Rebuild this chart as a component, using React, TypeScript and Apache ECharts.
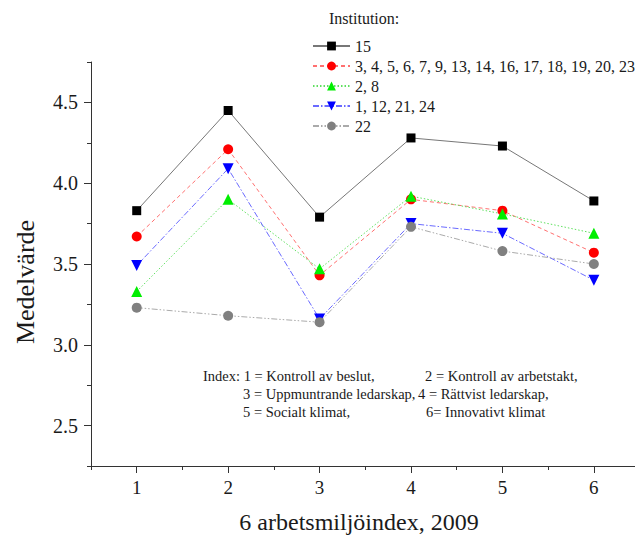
import React, { useEffect, useRef } from "react";
import * as echarts from "echarts";

const categories = [1, 2, 3, 4, 5, 6];
const seriesNames = ["15", "3, 4, 5, 6, 7, 9, 13, 14, 16, 17, 18, 19, 20, 23", "2, 8", "1, 12, 21, 24", "22"];
const inst15 = [3.83, 4.45, 3.79, 4.28, 4.23, 3.89];
const instRed = [3.67, 4.21, 3.43, 3.90, 3.83, 3.57];
const instGreen = [3.33, 3.90, 3.47, 3.92, 3.81, 3.69];
const instBlue = [3.49, 4.09, 3.16, 3.75, 3.69, 3.40];
const inst22 = [3.23, 3.18, 3.14, 3.73, 3.58, 3.50];
const yMajorTicks = [2.5, 3.0, 3.5, 4.0, 4.5];
const yMinorTicks = [2.25, 2.75, 3.25, 3.75, 4.25, 4.75];
const xMinorTicks = [0.5, 1.5, 2.5, 3.5, 4.5, 5.5];
const indexLines = [
  ["Index: 1 = Kontroll av beslut,", "2 = Kontroll av arbetstakt,"],
  ["3 = Uppmuntrande ledarskap,", "4 = Rättvist ledarskap,"],
  ["5 = Socialt klimat,", "6= Innovativt klimat"],
];

const FONT = "Liberation Serif";
const AX = "#333";
const TXT = "#1a1a1a";

export default function App() {
  const ref = useRef<HTMLDivElement>(null);
  useEffect(() => {
    const chart = echarts.init(ref.current!, null, { renderer: "svg" });
    const pairs = (vals: number[]) => categories.map((c, i) => [c, vals[i]]);
    const mk = (name: string, vals: number[], symbol: string, size: number, color: string, lineColor: string, type: any, width: number, rotate = 0) => ({
      name,
      type: "line",
      data: pairs(vals),
      symbol,
      symbolSize: size,
      symbolRotate: rotate,
      itemStyle: { color },
      lineStyle: { color: lineColor, type, width },
      z: 2,
    });
    const series = [
      mk(seriesNames[0], inst15, "rect", 9, "#000", "#777", "solid", 1),
      mk(seriesNames[1], instRed, "circle", 10, "#ff0000", "#ff7070", [4, 3], 1),
      mk(seriesNames[2], instGreen, "triangle", 11, "#00ee00", "#60e060", [1.5, 2], 1),
      mk(seriesNames[3], instBlue, "triangle", 11, "#0000ff", "#6a6aff", [6, 2, 1.5, 2], 1, 180),
      mk(seriesNames[4], inst22, "circle", 10, "#808080", "#aaa", [6, 2, 1.5, 2, 1.5, 2], 1),
    ];
    const txt = (x: number, y: number, text: string, size: number, extra: any = {}, styleExtra: any = {}) => ({
      type: "text",
      x,
      y,
      ...extra,
      style: { text, fontFamily: FONT, fontSize: size, fill: TXT, verticalAlign: "middle", ...styleExtra },
    });
    const graphics: any[] = [
      txt(329, 18, "Institution:", 16),
      txt(25, 282, "Medelvärde", 26, { rotation: Math.PI / 2 }, { align: "center" }),
      txt(359, 522, "6 arbetsmiljöindex, 2009", 24, {}, { align: "center" }),
    ];
    const lineY = [375.5, 394, 412];
    const col1X = [203, 243, 243];
    const col2X = [425, 418, 426];
    indexLines.forEach((ln, i) => {
      graphics.push(txt(col1X[i], lineY[i], ln[0], 14.5));
      graphics.push(txt(col2X[i], lineY[i], ln[1], 14.5));
    });
    chart.setOption({
      animation: false,
      backgroundColor: "#fff",
      grid: { left: 91, top: 62, right: 0, bottom: 74, containLabel: false },
      legend: {
        orient: "vertical",
        left: 307,
        top: 33,
        itemWidth: 37,
        itemHeight: 11,
        itemGap: 4,
        textStyle: { fontFamily: FONT, fontSize: 16, color: TXT },
        data: seriesNames,
      },
      xAxis: [
        {
          type: "value",
          min: 0.5,
          max: 6.45,
          interval: 0.5,
          axisLine: { show: true, onZero: false, lineStyle: { color: AX, width: 1 } },
          axisTick: { show: true, customValues: categories, length: 7, lineStyle: { color: AX } },
          axisLabel: { customValues: categories, fontFamily: FONT, fontSize: 19, color: TXT, margin: 12 },
          splitLine: { show: false },
        },
        {
          type: "value",
          min: 0.5,
          max: 6.45,
          interval: 0.5,
          position: "bottom",
          axisLine: { show: false },
          axisTick: { show: true, customValues: xMinorTicks, length: 4, lineStyle: { color: AX } },
          axisLabel: { show: false },
          splitLine: { show: false },
        },
      ],
      yAxis: [
        {
          type: "value",
          min: 2.25,
          max: 4.75,
          interval: 0.25,
          axisLine: { show: true, onZero: false, lineStyle: { color: AX, width: 1 } },
          axisTick: { show: true, customValues: yMajorTicks, length: 7, lineStyle: { color: AX } },
          axisLabel: { customValues: yMajorTicks, formatter: (v: number) => v.toFixed(1), fontFamily: FONT, fontSize: 20, color: TXT, margin: 13 },
          splitLine: { show: false },
        },
        {
          type: "value",
          min: 2.25,
          max: 4.75,
          interval: 0.25,
          position: "left",
          axisLine: { show: false },
          axisTick: { show: true, customValues: yMinorTicks, length: 4, lineStyle: { color: AX } },
          axisLabel: { show: false },
          splitLine: { show: false },
        },
      ],
      series,
      graphic: graphics,
    });
    return () => chart.dispose();
  }, []);
  return <div ref={ref} style={{ position: "absolute", left: 0, top: 0, width: 635, height: 540 }} />;
}
